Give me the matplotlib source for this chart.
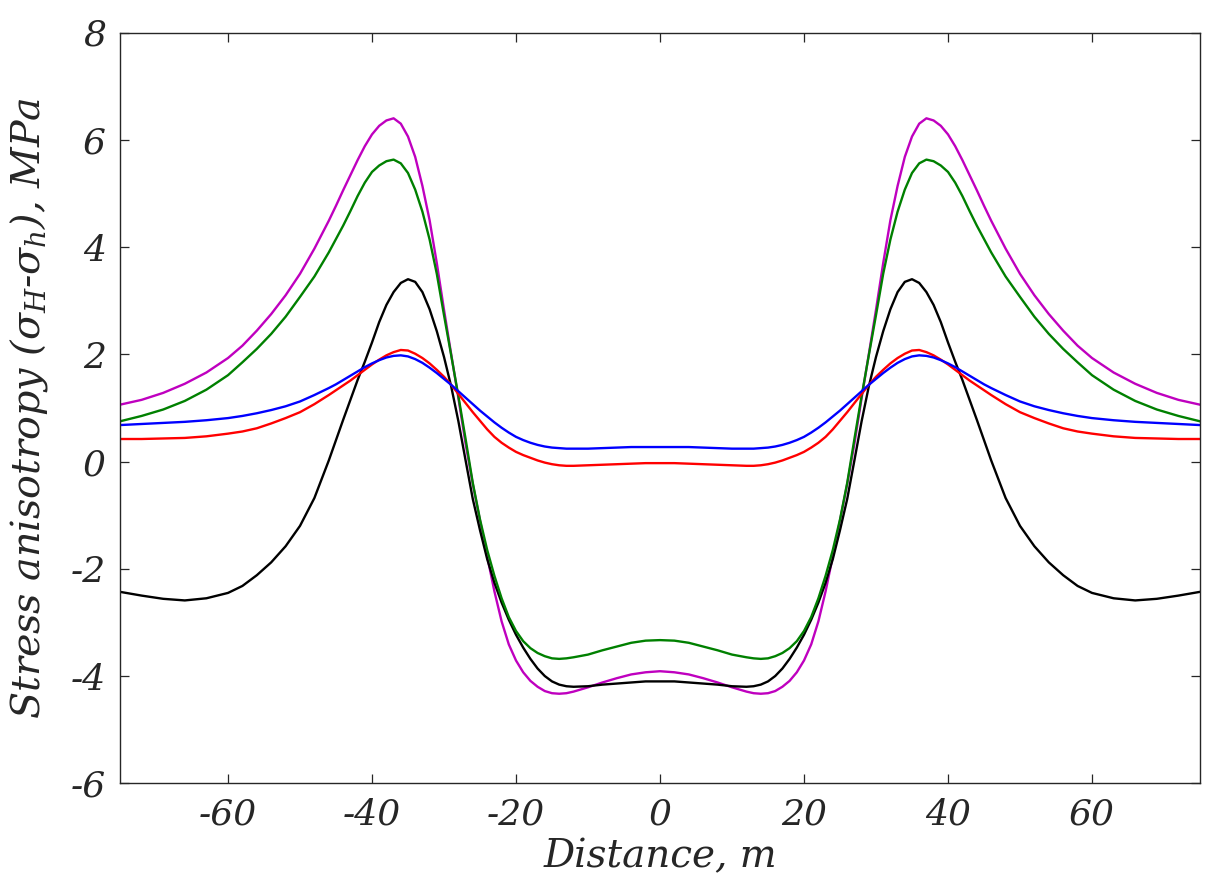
import matplotlib
matplotlib.use("Agg")
import matplotlib.pyplot as plt

# ---------------- data ----------------
distance = [-75, -72, -69, -66, -63, -60, -58, -56, -54, -52, -50, -48, -46, -45, -44, -43, -42, -41,
            -40, -39, -38, -37, -36, -35, -34, -33, -32, -31, -30, -29, -28, -27, -26, -25, -24, -23,
            -22, -21, -20, -19, -18, -17, -16, -15, -14, -13, -12, -10, -8, -6, -4, -2,
            0, 2, 4, 6, 8, 10, 12, 13, 14, 15, 16, 17, 18, 19, 20, 21, 22, 23, 24, 25, 26, 27, 28, 29,
            30, 31, 32, 33, 34, 35, 36, 37, 38, 39, 40, 41, 42, 43, 44, 45, 46, 48, 50, 52, 54, 56, 58,
            60, 63, 66, 69, 72, 75]

magenta_curve = [1.06, 1.15, 1.28, 1.45, 1.66, 1.93, 2.16, 2.44, 2.75, 3.10, 3.50, 3.97, 4.49, 4.77, 5.06, 5.34, 5.62, 5.88,
                 6.10, 6.26, 6.36, 6.40, 6.30, 6.06, 5.68, 5.14, 4.50, 3.70, 2.83, 2.00, 1.18, 0.33, -0.42, -1.10, -1.77, -2.42,
                 -2.98, -3.41, -3.71, -3.93, -4.09, -4.20, -4.28, -4.32, -4.33, -4.32, -4.29, -4.21, -4.12, -4.04, -3.97, -3.93,
                 -3.91, -3.93, -3.97, -4.04, -4.12, -4.21, -4.29, -4.32, -4.33, -4.32, -4.28, -4.20, -4.09, -3.93, -3.71, -3.41, -2.98, -2.42, -1.77, -1.10, -0.42, 0.33, 1.18, 2.00,
                 2.83, 3.70, 4.50, 5.14, 5.68, 6.06, 6.30, 6.40, 6.36, 6.26, 6.10, 5.88, 5.62, 5.34, 5.06, 4.77, 4.49, 3.97, 3.50, 3.10, 2.75, 2.44, 2.16,
                 1.93, 1.66, 1.45, 1.28, 1.15, 1.06]

green_curve = [0.75, 0.85, 0.97, 1.13, 1.34, 1.61, 1.85, 2.10, 2.38, 2.70, 3.07, 3.45, 3.90, 4.15, 4.40, 4.67, 4.95, 5.20,
               5.40, 5.52, 5.60, 5.63, 5.56, 5.38, 5.07, 4.66, 4.14, 3.50, 2.73, 1.98, 1.22, 0.42, -0.40, -1.08, -1.65, -2.13,
               -2.55, -2.90, -3.16, -3.35, -3.48, -3.57, -3.63, -3.67, -3.68, -3.67, -3.65, -3.60, -3.52, -3.45, -3.38, -3.34,
               -3.33, -3.34, -3.38, -3.45, -3.52, -3.60, -3.65, -3.67, -3.68, -3.67, -3.63, -3.57, -3.48, -3.35, -3.16, -2.90, -2.55, -2.13, -1.65, -1.08, -0.40, 0.42, 1.22, 1.98,
               2.73, 3.50, 4.14, 4.66, 5.07, 5.38, 5.56, 5.63, 5.60, 5.52, 5.40, 5.20, 4.95, 4.67, 4.40, 4.15, 3.90, 3.45, 3.07, 2.70, 2.38, 2.10, 1.85,
               1.61, 1.34, 1.13, 0.97, 0.85, 0.75]

black_curve = [-2.43, -2.50, -2.56, -2.59, -2.55, -2.45, -2.32, -2.12, -1.88, -1.58, -1.20, -0.68, 0.02, 0.40, 0.78, 1.15, 1.52, 1.86,
               2.22, 2.60, 2.92, 3.16, 3.33, 3.40, 3.35, 3.16, 2.84, 2.43, 1.95, 1.40, 0.75, 0.02, -0.70, -1.28, -1.82, -2.26,
               -2.63, -2.95, -3.23, -3.47, -3.68, -3.86, -4.00, -4.10, -4.16, -4.19, -4.20, -4.19, -4.16, -4.14, -4.12, -4.10,
               -4.10, -4.10, -4.12, -4.14, -4.16, -4.19, -4.20, -4.19, -4.16, -4.10, -4.00, -3.86, -3.68, -3.47, -3.23, -2.95, -2.63, -2.26, -1.82, -1.28, -0.70, 0.02, 0.75, 1.40,
               1.95, 2.43, 2.84, 3.16, 3.35, 3.40, 3.33, 3.16, 2.92, 2.60, 2.22, 1.86, 1.52, 1.15, 0.78, 0.40, 0.02, -0.68, -1.20, -1.58, -1.88, -2.12, -2.32,
               -2.45, -2.55, -2.59, -2.56, -2.50, -2.43]

red_curve = [0.42, 0.42, 0.43, 0.44, 0.47, 0.52, 0.56, 0.62, 0.71, 0.81, 0.92, 1.07, 1.24, 1.33, 1.42, 1.51, 1.61, 1.71,
             1.81, 1.90, 1.98, 2.04, 2.08, 2.07, 2.01, 1.93, 1.83, 1.71, 1.58, 1.43, 1.26, 1.09, 0.92, 0.76, 0.60, 0.46,
             0.35, 0.26, 0.18, 0.12, 0.07, 0.02, -0.02, -0.05, -0.07, -0.08, -0.08, -0.07, -0.06, -0.05, -0.04, -0.03,
             -0.03, -0.03, -0.04, -0.05, -0.06, -0.07, -0.08, -0.08, -0.07, -0.05, -0.02, 0.02, 0.07, 0.12, 0.18, 0.26, 0.35, 0.46, 0.60, 0.76, 0.92, 1.09, 1.26, 1.43,
             1.58, 1.71, 1.83, 1.93, 2.01, 2.07, 2.08, 2.04, 1.98, 1.90, 1.81, 1.71, 1.61, 1.51, 1.42, 1.33, 1.24, 1.07, 0.92, 0.81, 0.71, 0.62, 0.56,
             0.52, 0.47, 0.44, 0.43, 0.42, 0.42]

blue_curve = [0.68, 0.70, 0.72, 0.74, 0.77, 0.81, 0.85, 0.90, 0.96, 1.03, 1.12, 1.24, 1.37, 1.44, 1.52, 1.60, 1.68, 1.76,
              1.83, 1.89, 1.94, 1.97, 1.98, 1.96, 1.91, 1.84, 1.75, 1.65, 1.54, 1.43, 1.31, 1.19, 1.07, 0.95, 0.84, 0.73,
              0.63, 0.54, 0.46, 0.40, 0.35, 0.31, 0.28, 0.26, 0.25, 0.24, 0.24, 0.24, 0.25, 0.26, 0.27, 0.27,
              0.27, 0.27, 0.27, 0.26, 0.25, 0.24, 0.24, 0.24, 0.25, 0.26, 0.28, 0.31, 0.35, 0.40, 0.46, 0.54, 0.63, 0.73, 0.84, 0.95, 1.07, 1.19, 1.31, 1.43,
              1.54, 1.65, 1.75, 1.84, 1.91, 1.96, 1.98, 1.97, 1.94, 1.89, 1.83, 1.76, 1.68, 1.60, 1.52, 1.44, 1.37, 1.24, 1.12, 1.03, 0.96, 0.90, 0.85,
              0.81, 0.77, 0.74, 0.72, 0.70, 0.68]

x_ticks = [-60, -40, -20, 0, 20, 40, 60]
y_ticks = [-6, -4, -2, 0, 2, 4, 6, 8]
x_label = "Distance, m"
y_label = r"Stress anisotropy ($\sigma_H$-$\sigma_h$), MPa"

# ---------------- styling ----------------
plt.rcParams['font.family'] = ['DejaVu Serif']
plt.rcParams['font.style'] = 'italic'
plt.rcParams['mathtext.fontset'] = 'custom'
plt.rcParams['mathtext.it'] = 'DejaVu Serif:italic'
plt.rcParams['mathtext.rm'] = 'DejaVu Serif:italic'
plt.rcParams['mathtext.default'] = 'it'

axis_color = '#262626'

fig = plt.figure(figsize=(12.3, 8.83), dpi=100)
ax = fig.add_axes([120 / 1230, 1 - 783.3 / 883, (1200 - 120) / 1230, (783.3 - 32.5) / 883])

series = [
    (magenta_curve, '#BF00BF'),
    (black_curve, '#000000'),
    (green_curve, '#008000'),
    (red_curve, '#FF0000'),
    (blue_curve, '#0000FF'),
]
for values, color in series:
    ax.plot(distance, values, color=color, lw=1.7, solid_joinstyle='round')

ax.set_xlim(-75, 75)
ax.set_ylim(-6, 8)
ax.set_xticks(x_ticks)
ax.set_yticks(y_ticks)
ax.set_xticklabels([str(v) for v in x_ticks])
ax.set_yticklabels([str(v) for v in y_ticks])

for sp in ax.spines.values():
    sp.set_color(axis_color)
    sp.set_linewidth(1.0)
ax.tick_params(direction='in', length=6.5, width=0.9, color=axis_color, labelcolor=axis_color,
               labelsize=26, top=True, right=True, pad=10)

ax.set_xlabel(x_label, fontsize=28, color=axis_color, labelpad=5)
ax.set_ylabel(y_label, fontsize=28.5, color=axis_color, labelpad=15)

fig.savefig('out.png', dpi=100)
